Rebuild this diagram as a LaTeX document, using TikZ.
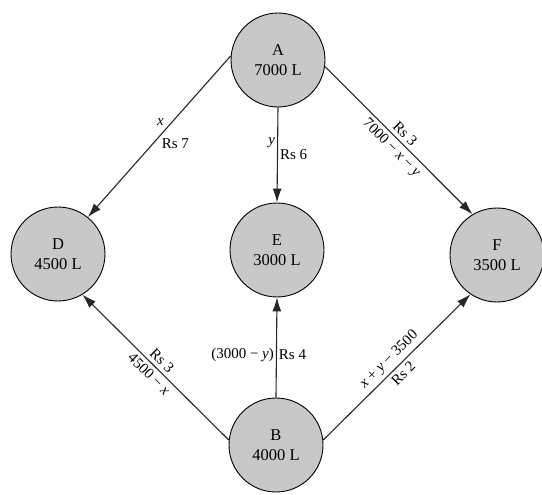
\documentclass[tikz,border=0pt]{standalone}
\usepackage{fontspec}
\setmainfont{Liberation Serif}
\usetikzlibrary{arrows.meta}
\definecolor{tankgray}{RGB}{200,200,200}
\begin{document}
\begin{tikzpicture}[x=1pt,y=-1pt,
  tank/.style={circle, draw=black, line width=0.9pt, fill=tankgray, minimum size=94pt, inner sep=0pt, align=center, font=\fontsize{16.5}{20}\selectfont},
  flow/.style={-{Latex[length=14pt,width=9pt]}, line width=1.1pt, draw=black!85},
  lbl/.style={font=\fontsize{15}{17}\selectfont, inner sep=2pt},
  slbl/.style={lbl, sloped, inner sep=3.5pt}]
\useasboundingbox (0,0) rectangle (542,495);
\node[tank] (A) at (278,60) {A\\7000 L};
\node[tank] (D) at (58,254) {D\\4500 L};
\node[tank] (E) at (277,250) {E\\3000 L};
\node[tank] (F) at (497,255) {F\\3500 L};
\node[tank] (B) at (276,445) {B\\4000 L};
\draw[flow] (A.175) -- (D.51)
  node[lbl, pos=0.45, above left] {\textit{x}}
  node[lbl, pos=0.5, below right] {Rs 7};
\draw[flow] (A.south) -- (E.north)
  node[lbl, pos=0.37, left] {\textit{y}}
  node[lbl, pos=0.5, right] {Rs 6};
\draw[flow] (A.-8) -- (F.121)
  node[slbl, midway, above] {Rs 3}
  node[slbl, midway, below] {7000 − \textit{x} − \textit{y}};
\draw[flow] (B.174) -- (D.-59)
  node[slbl, midway, above] {Rs 3}
  node[slbl, midway, below] {4500 − \textit{x}};
\draw[flow] (B.north) -- (E.south)
  node[lbl, pos=0.43, left] {(3000 − \textit{y})}
  node[lbl, pos=0.43, right] {Rs 4};
\draw[flow] (B.6) -- (F.236)
  node[slbl, midway, above] {\textit{x} + \textit{y} − 3500}
  node[slbl, midway, below] {Rs 2};
\end{tikzpicture}
\end{document}
